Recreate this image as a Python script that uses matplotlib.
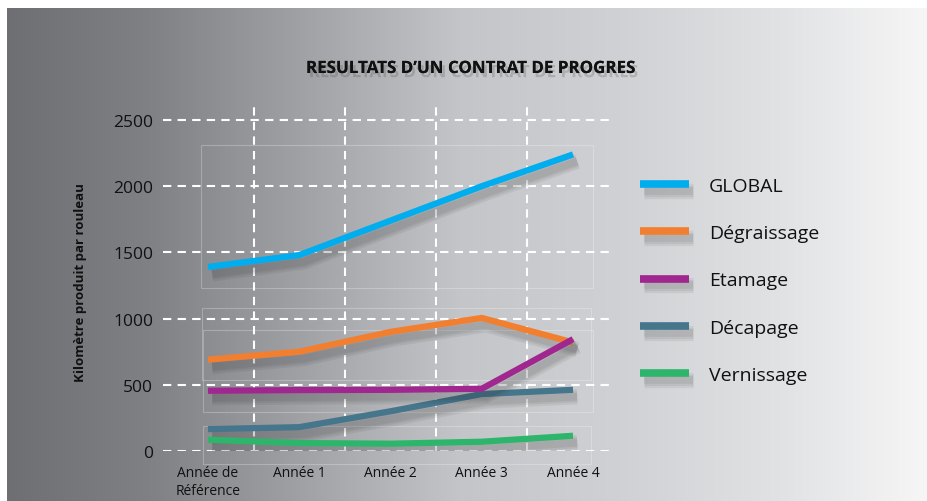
import numpy as np
import matplotlib
matplotlib.use('Agg')
import matplotlib.pyplot as plt
import matplotlib.patheffects as pe
from matplotlib.patches import Rectangle
from matplotlib.transforms import Affine2D

plt.rcParams['font.family'] = ['Open Sans', 'DejaVu Sans']

# Data
categories = ['Année de\nRéférence', 'Année 1', 'Année 2', 'Année 3', 'Année 4']
global_km = [1390, 1480, 1740, 2000, 2240]
degraissage = [690, 750, 900, 1005, 820]
etamage = [455, 460, 462, 470, 845]
decapage = [165, 180, 300, 430, 462]
vernissage = [85, 60, 55, 70, 115]

series = [
    ('GLOBAL', global_km, '#00adee', 3),
    ('Dégraissage', degraissage, '#f27f30', 3),
    ('Etamage', etamage, '#a0278f', 5),
    ('Décapage', decapage, '#46768c', 4),
    ('Vernissage', vernissage, '#2db56b', 4),
]

W, H = 928, 502
fig = plt.figure(figsize=(W / 100, H / 100), dpi=100)
fig.patch.set_facecolor('white')

# gradient background
bg = fig.add_axes([7 / W, 0, 1 - 7 / W, (H - 9) / H], zorder=-10)
stops_x = [7, 150, 300, 460, 620, 780, 928]
stops_c = np.array([[110, 111, 115], [128, 129, 133], [160, 161, 165],
                    [196, 197, 200], [208, 209, 212], [225, 226, 228],
                    [246, 246, 246]]) / 255
xs = np.arange(7, 929)
grad = np.stack([np.interp(xs, stops_x, stops_c[:, i]) for i in range(3)], axis=-1)
bg.imshow(grad[None, :, :], aspect='auto', extent=[0, 1, 0, 1])
bg.set_axis_off()

# faint decorative boxes (pixel coords, top-left origin)
boxes = [(201, 146, 593, 289), (202, 309, 591, 381), (203, 331, 593, 413), (203, 427, 591, 465)]
for x0, y0, x1, y1 in boxes:
    fig.patches.append(Rectangle((x0, H - y1), x1 - x0, y1 - y0, fill=False,
                                 edgecolor='white', alpha=0.25, linewidth=0.8,
                                 transform=Affine2D().scale(1 / W, 1 / H) + fig.transFigure,
                                 zorder=-5))

ax = fig.add_axes([163 / W, (H - 452) / H, (612 - 163) / W, (452 - 103) / H])
ax.patch.set_alpha(0)
for s in ax.spines.values():
    s.set_visible(False)

x = np.arange(len(categories))
ax.set_xlim(-0.493, 4.427)
ax.set_ylim(0, 2636)

dash = (0, (4, 3))
for yv in range(0, 2501, 500):
    ax.axhline(yv, color='white', lw=1.5, linestyle=dash, zorder=1)
for xv in [0.5, 1.5, 2.5, 3.5]:
    ax.axvline(xv, color='white', lw=1.5, linestyle=dash, zorder=1)

# soft blurred-looking shadow: several wide, faint strokes
shadow = [pe.SimpleLineShadow(offset=(3, -5), shadow_color='#222222', alpha=0.07, linewidth=w)
          for w in (11, 8, 5.5)] + [pe.Normal()]
for name, vals, col, z in series:
    ax.plot(x, vals, color=col, lw=4.5, label=name, zorder=z,
            solid_capstyle='butt', solid_joinstyle='miter', path_effects=shadow)

ax.set_yticks(range(0, 2501, 500))
ax.set_yticklabels([str(v) for v in range(0, 2501, 500)], fontsize=12.5, color='#111111')
ax.set_xticks(x)
ax.set_xticklabels(categories, fontsize=10, color='#111111', linespacing=1.3, va='top')
ax.tick_params(axis='y', length=0, pad=7)
ax.tick_params(axis='x', length=0, pad=10)

fig.text(81 / W, 1 - 283 / H, 'Kilomètre produit par rouleau', rotation=90,
         ha='center', va='center', fontsize=9.5, fontweight='bold', color='#111111')

fig.text(470 / W, 1 - 69 / H, 'RESULTATS D\u2019UN CONTRAT DE PROGRES', ha='center', va='center',
         fontsize=12.2, fontweight='bold', color='#111111',
         path_effects=[pe.withSimplePatchShadow(offset=(2, -3), shadow_rgbFace='#333333', alpha=0.2),
                       pe.Normal()])

handles, labels = ax.get_legend_handles_labels()
leg = fig.legend(handles, labels, loc='upper left', bbox_to_anchor=(640 / W, 1 - 178 / H),
                 frameon=False, fontsize=14, handlelength=2.5, handletextpad=1.05,
                 labelspacing=1.5, borderpad=0, borderaxespad=0)
for t in leg.get_texts():
    t.set_color('#111111')
for h in leg.get_lines():
    h.set_linewidth(5.5)

fig.savefig('out.png', dpi=100)
